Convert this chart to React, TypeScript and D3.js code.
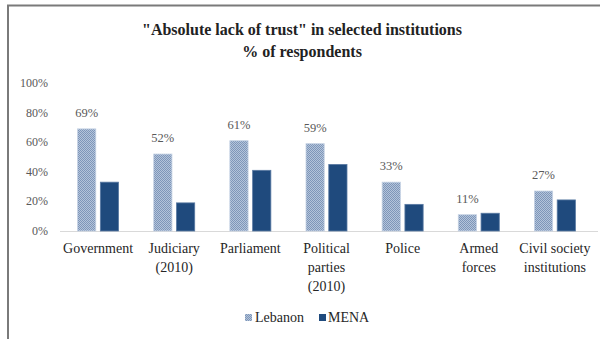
import React from "react";
import * as d3 from "d3";

const categories = [
  ["Government"],
  ["Judiciary", "(2010)"],
  ["Parliament"],
  ["Political", "parties", "(2010)"],
  ["Police"],
  ["Armed", "forces"],
  ["Civil society", "institutions"],
];
const lebanon = [69, 52, 61, 59, 33, 11, 27];
const mena = [33, 19, 41, 45, 18, 12, 21];
const yTicks = [0, 20, 40, 60, 80, 100];
const seriesNames = ["Lebanon", "MENA"];

const W = 600;
const H = 339;
const FONT = '"Liberation Serif"';

export default function App() {
  const x = d3
    .scaleBand<number>()
    .domain(d3.range(categories.length))
    .range([60, 593])
    .paddingInner(0)
    .paddingOuter(0);
  const y = d3.scaleLinear().domain([0, 100]).range([231, 83]);
  const inner = d3
    .scaleBand<number>()
    .domain([0, 1])
    .range([x.bandwidth() / 2 - 20.5, x.bandwidth() / 2 + 20.5])
    .paddingInner(0.2);

  const ts = { fontFamily: FONT };

  return (
    <svg width={W} height={H} style={{ position: "absolute", left: 0, top: 0 }}>
      <defs>
        <pattern id="dots" width="2" height="2" patternUnits="userSpaceOnUse">
          <rect width="2" height="2" fill="#b4c4da" />
          <rect width="1" height="1" fill="#7e96b9" />
          <rect x="1" y="1" width="1" height="1" fill="#7e96b9" />
        </pattern>
      </defs>
      <rect width={W} height={H} fill="#fff" />
      {/* frame */}
      <line x1={7} x2={600} y1={5.5} y2={5.5} stroke="#7a7a7a" strokeWidth={2} />
      <line x1={8} x2={8} y1={5} y2={339} stroke="#7a7a7a" strokeWidth={2} />

      {/* title */}
      <text x={302} y={35} textAnchor="middle" fontSize={16} fontWeight="bold" fill="#222" style={ts}>
        "Absolute lack of trust" in selected institutions
      </text>
      <text x={302} y={57} textAnchor="middle" fontSize={16} fontWeight="bold" fill="#222" style={ts}>
        % of respondents
      </text>

      {/* y axis labels */}
      {yTicks.map((t) => (
        <text
          key={t}
          x={48}
          y={y(t) + 4}
          textAnchor="end"
          fontSize={12}
          fill="#595959"
          style={ts}
        >
          {`${t}%`}
        </text>
      ))}

      {/* baseline */}
      <line x1={60} x2={598} y1={y(0) + 0.5} y2={y(0) + 0.5} stroke="#d9d9d9" strokeWidth={1} />

      {/* bars */}
      {categories.map((_, i) => {
        const x0 = x(i)!;
        return (
          <g key={i}>
            <rect
              x={x0 + inner(0)!}
              y={y(lebanon[i])}
              width={inner.bandwidth()}
              height={y(0) - y(lebanon[i])}
              fill="url(#dots)"
              stroke="#c5d2e4"
              strokeWidth={0.8}
            />
            <rect
              x={x0 + inner(1)!}
              y={y(mena[i])}
              width={inner.bandwidth()}
              height={y(0) - y(mena[i])}
              fill="#1f4a7d"
              stroke="#5a7aa3"
              strokeWidth={0.8}
            />
            <text
              x={x0 + inner(0)! + inner.bandwidth() / 2}
              y={y(lebanon[i]) - 12}
              textAnchor="middle"
              fontSize={12.5}
              fill="#595959"
              style={ts}
            >
              {`${lebanon[i]}%`}
            </text>
          </g>
        );
      })}

      {/* category labels */}
      {categories.map((lines, i) =>
        lines.map((l, j) => (
          <text
            key={`${i}-${j}`}
            x={x(i)! + x.bandwidth() / 2}
            y={253 + j * 19}
            textAnchor="middle"
            fontSize={14}
            fill="#262626"
            style={ts}
          >
            {l}
          </text>
        ))
      )}

      {/* legend */}
      <rect x={245} y={314} width={7} height={7} fill="url(#dots)" />
      <text x={255} y={322} fontSize={14} fill="#262626" style={ts}>
        {seriesNames[0]}
      </text>
      <rect x={319} y={314} width={7} height={7} fill="#1f4a7d" />
      <text x={328} y={322} fontSize={14} fill="#262626" style={ts}>
        {seriesNames[1]}
      </text>
    </svg>
  );
}
